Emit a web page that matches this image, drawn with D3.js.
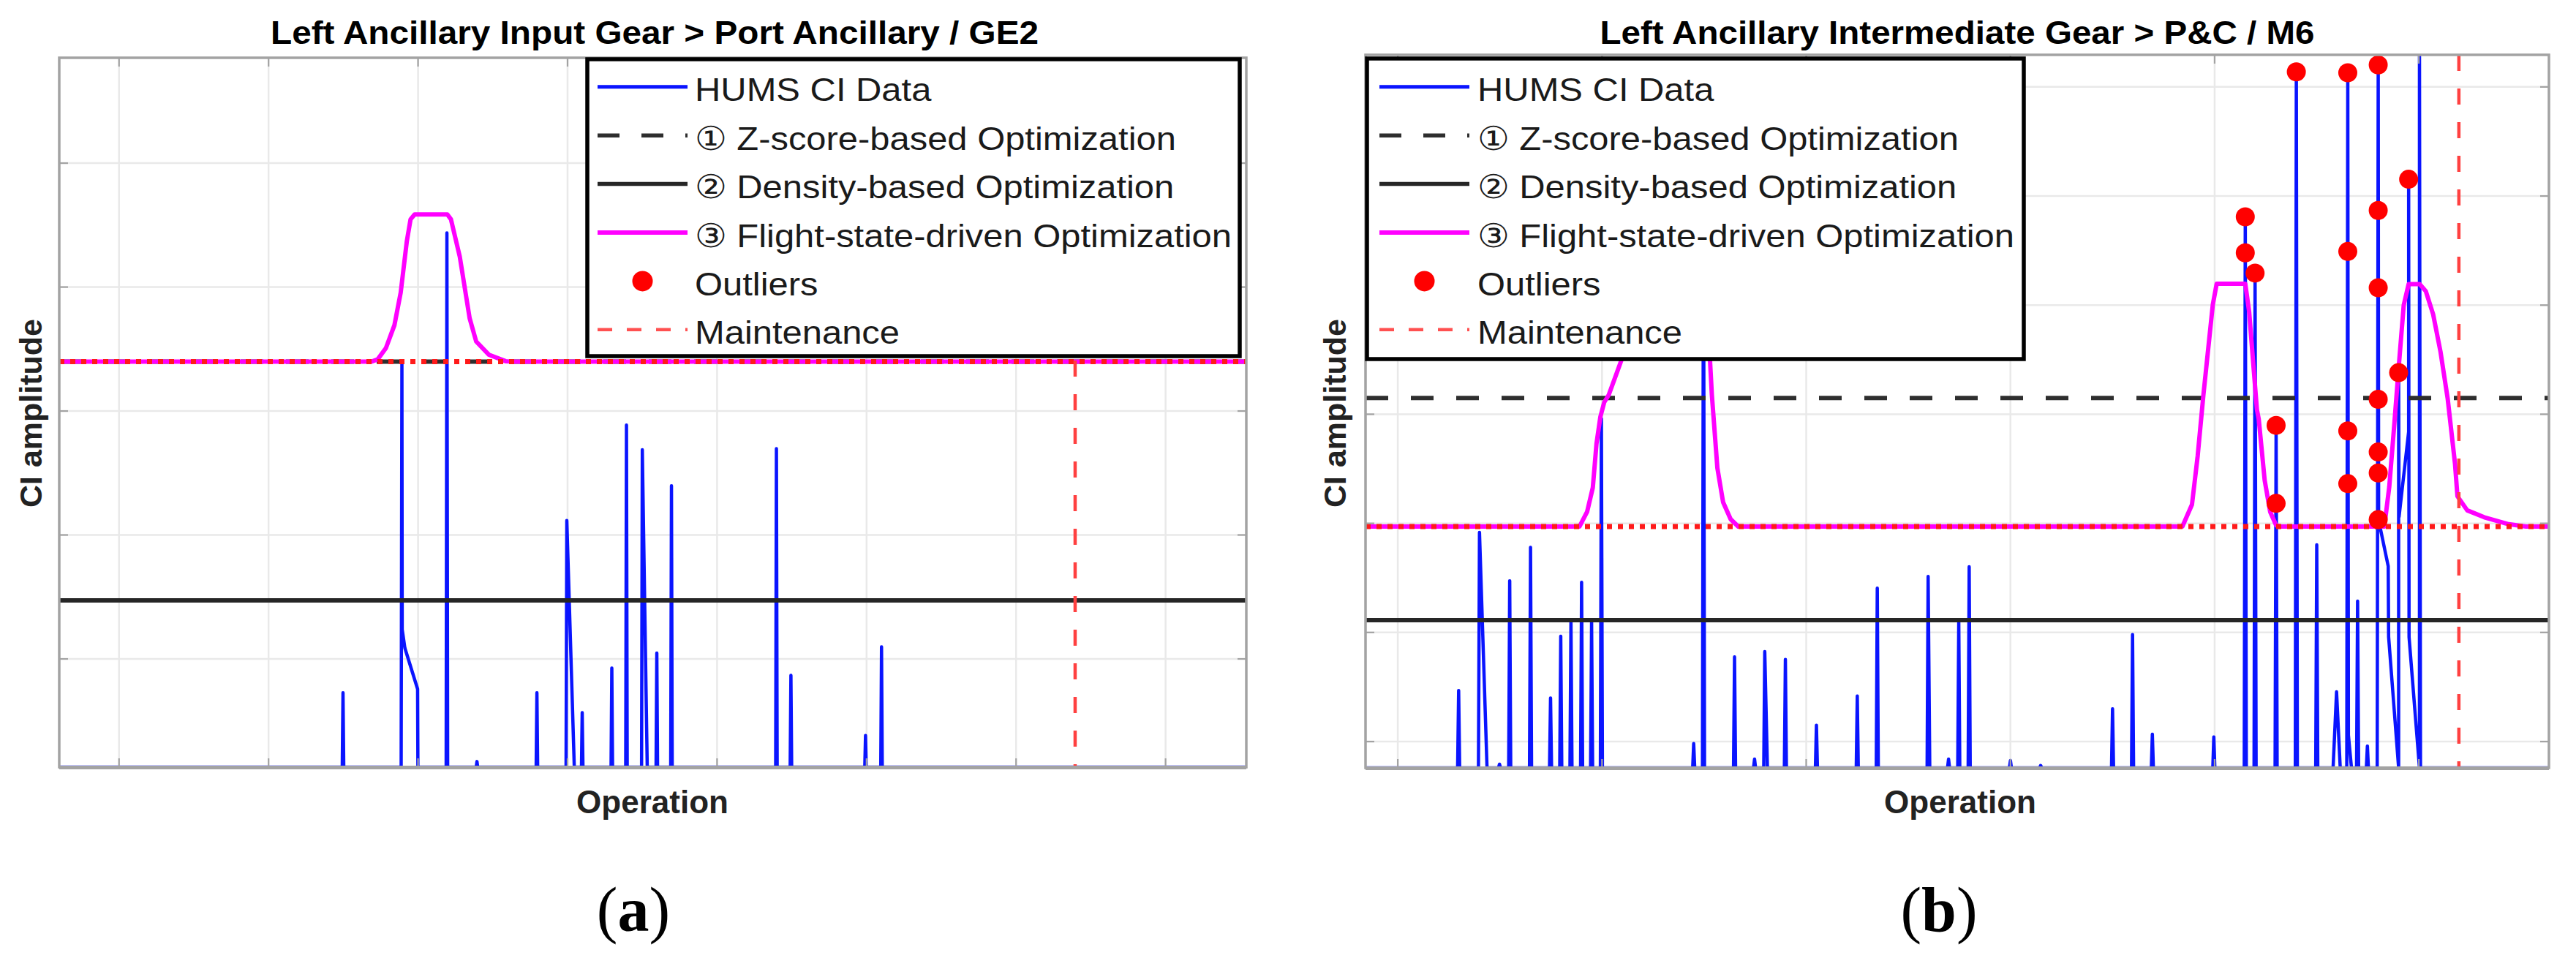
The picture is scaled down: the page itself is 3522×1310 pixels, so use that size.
<!DOCTYPE html>
<html><head><meta charset="utf-8">
<script src="https://cdn.jsdelivr.net/npm/d3@7"></script>
<style>html,body{margin:0;padding:0;background:#fff;} svg{display:block;}</style>
</head><body>
<script>
// ================= DATA =================
const titleA = "Left Ancillary Input Gear > Port Ancillary / GE2";
const titleB = "Left Ancillary Intermediate Gear > P&C / M6";
const xLabel = "Operation";
const yLabel = "CI amplitude";
const captionA = "a";
const captionB = "b";
const legendLabels = ["HUMS CI Data", "\u2460 Z-score-based Optimization", "\u2461 Density-based Optimization",
  "\u2462 Flight-state-driven Optimization", "Outliers", "Maintenance"];

// axis domains and tick values (tick labels are hidden in the original)
const xDomainA = [60, 854];
const yDomainA = [0, 5.723];
const xTicksA = [100, 200, 300, 400, 500, 600, 700, 800];
const yTicksA = [0.873, 1.873, 2.873, 3.873, 4.873];

const xDomainB = [84.2, 663.7];
const yDomainB = [0, 6.535];
const xTicksB = [100, 200, 300, 400, 500, 600];
const yTicksB = [0.241, 1.241, 2.241, 3.241, 4.241, 5.241, 6.241];

// HUMS CI data [operation, amplitude]
const humsA = [[60,0],
  [249.3,0],[249.8,0.60],[250.3,0],
  [288.7,0],[289.2,3.26],[289.4,1.11],[291.2,0.96],[299.7,0.63],[299.9,0],
  [318.8,0],[319.3,4.31],[319.8,0],
  [338.9,0],[339.4,0.045],[339.9,0],
  [379,0],[379.5,0.60],[380,0],
  [399,0],[399.5,1.99],[404.5,0],
  [409.3,0],[409.8,0.44],[410.3,0],
  [429.1,0],[429.6,0.80],[430.1,0],
  [438.9,0],[439.4,2.76],[439.9,0],
  [449.5,0],[450,2.56],[453.3,0],
  [459.2,0],[459.7,0.92],[460.2,0],
  [469,0],[469.5,2.27],[470,0],
  [539.2,0],[539.7,2.57],[540.2,0],
  [548.9,0],[549.4,0.74],[549.9,0],
  [598.8,0],[599.3,0.255],[599.8,0],
  [609.5,0],[610,0.97],[610.5,0],
  [854,0]];

const humsB = [[84.2,0],
  [129.3,0],[129.8,0.708],[130.3,0],
  [139.5,0],[140,2.158],[143.7,0],
  [149.3,0],[149.8,0.034],[150.3,0],
  [154.3,0],[154.8,1.715],[155.3,0],
  [164.5,0],[165,2.02],[165.5,0],
  [174.3,0],[174.8,0.64],[175.3,0],
  [179.3,0],[179.8,1.206],[180.3,0],
  [184.3,0],[184.8,1.352],[185.3,0],
  [189.5,0],[190,1.70],[190.5,0],
  [194.4,0],[194.9,1.34],[195.4,0],
  [199.2,0],[199.7,3.20],[200.2,0],
  [244.4,0],[244.9,0.223],[245.4,0],
  [249.2,0],[249.7,5.4],[250.2,0],
  [264.4,0],[264.9,1.017],[265.4,0],
  [274.2,0],[274.7,0.08],[275.2,0],
  [279.2,0],[279.7,1.066],[281,0],
  [289.3,0],[289.8,0.994],[290.3,0],
  [304.5,0],[305,0.391],[305.5,0],
  [324.5,0],[325,0.659],[325.5,0],
  [334.3,0],[334.8,1.647],[335.3,0],
  [359.2,0],[359.7,1.754],[360.5,0],
  [369.2,0],[369.7,0.08],[370.2,0],
  [374.2,0],[374.7,1.34],[375.2,0],
  [379.3,0],[379.8,1.843],[380.3,0],
  [399.5,0],[400,0.067],[400.5,0],
  [414.3,0],[414.8,0.022],[415.3,0],
  [449.5,0],[450,0.541],[450.5,0],
  [459.3,0],[459.8,1.222],[460.3,0],
  [469,0],[469.5,0.308],[470,0],
  [499.1,0],[499.6,0.284],[500.1,0],
  [514.5,0],[515,5.05],[515.5,0],
  [519.3,0],[519.8,4.535],[520.3,0],
  [529.6,0],[530.1,3.139],[530.6,0],
  [539.5,0],[540,6.379],[540.5,0],
  [549.5,0],[550,2.044],[550.5,0],
  [558,0],[559.7,0.697],[561.5,0],
  [564.7,0],[565.2,6.371],[565.5,0.3],[567,0],
  [569.5,0],[570,1.528],[570.5,0],
  [574.3,0],[574.8,0.2],[575.3,0],
  [579.6,0],[580.1,6.443],[580.3,2.27],[585,1.848],[585.2,1.2],[590.1,0],[590.1,3.622],[590.3,2.3],
  [595,3.08],[595,5.395],[595.2,1.2],[600.3,0],[600.3,6.6],[600.8,0],
  [663.7,0]];

// (3) flight-state-driven threshold [operation, amplitude]
const flightA = [[60,3.271],[268.7,3.271],[273,3.29],[278.5,3.381],[284.2,3.566],[288.4,3.829],[292.5,4.244],
  [295,4.42],[297.7,4.459],[319.6,4.459],[322,4.42],[327.9,4.119],[334.5,3.622],[338.9,3.434],
  [347.3,3.328],[358.6,3.275],[365,3.271],[854,3.271]];
const flightB = [[84.2,2.212],[189,2.212],[192.7,2.346],[195.5,2.569],[197.3,2.971],[199.2,3.217],[201.1,3.351],
  [203.3,3.418],[209.4,3.731],[213,4.2],[216,4.437],[246,4.437],[250,4.2],[252.9,3.731],[253.8,3.418],
  [256.5,2.748],[259.3,2.435],[263,2.279],[266.7,2.212],
  [484.2,2.212],[488.9,2.413],[491.7,2.86],[494.5,3.418],[499.1,4.245],[501,4.437],[515,4.437],
  [516.9,4.18],[518.8,3.731],[520.7,3.284],[521.6,3.195],[524.5,2.636],[527.2,2.346],[530.1,2.223],[532,2.212],
  [583.1,2.212],[585.5,2.574],[587.9,3.13],[590.2,3.686],[592.6,4.242],[595,4.434],[600.4,4.434],
  [603.4,4.369],[607,4.156],[610.6,3.814],[614.1,3.387],[617.7,2.788],[618.9,2.489],[623.7,2.36],
  [632,2.297],[644,2.233],[652.4,2.212],[663.7,2.212]];

// (1) Z-score, (2) density thresholds, red dotted reference level, maintenance event
const zScoreA = 3.271, densityA = 1.345, refLevelA = 3.271, maintenanceA = 739.5;
const zScoreB = 3.39, densityB = 1.354, refLevelB = 2.212, maintenanceB = 619.6;

// Outliers [operation, amplitude]
const outliersA = [];
const outliersB = [[515,5.05],[515,4.72],[519.8,4.535],[530.1,3.139],[530.1,2.424],[540,6.379],
  [565.2,6.371],[565.2,4.733],[565.2,3.088],[565.2,2.605],
  [580.1,6.443],[580.1,5.109],[580.1,4.40],[580.1,3.378],[580.1,2.895],[580.1,2.703],[580.1,2.275],
  [590.1,3.622],[595,5.395]];

// ================= STYLE / LAYOUT =================
const W = 3522, H = 1310;
const FONT = "'Liberation Sans', Arial, Helvetica, sans-serif";
const C = {blue:"#0a14ff", magenta:"#ff00ff", red:"#ff1a1a", maint:"#ff4040", black:"#262626", grid:"#e9e9e9", axis:"#a3a3a3"};

const svg = d3.select("body").append("svg").attr("width", W).attr("height", H)
  .attr("viewBox", `0 0 ${W} ${H}`);
svg.append("rect").attr("width", W).attr("height", H).attr("fill", "#fff");

function panel(cfg, idx) {
  const {l, t, r, b} = cfg.box;
  const x = d3.scaleLinear().domain(cfg.xDomain).range([l, r]);
  const y = d3.scaleLinear().domain(cfg.yDomain).range([b, t]);
  const g = svg.append("g");
  const clipId = "clip" + idx;
  svg.append("defs").append("clipPath").attr("id", clipId)
    .append("rect").attr("x", l).attr("y", t).attr("width", r - l).attr("height", b - t);

  // grid
  g.append("g").selectAll("line").data(cfg.xTicks).join("line")
    .attr("x1", d => x(d)).attr("x2", d => x(d)).attr("y1", t).attr("y2", b)
    .attr("stroke", C.grid).attr("stroke-width", 2.5);
  g.append("g").selectAll("line").data(cfg.yTicks).join("line")
    .attr("y1", d => y(d)).attr("y2", d => y(d)).attr("x1", l).attr("x2", r)
    .attr("stroke", C.grid).attr("stroke-width", 2.5);

  const plot = g.append("g").attr("clip-path", `url(#${clipId})`);
  const line = d3.line().x(d => x(d[0])).y(d => y(d[1]));
  const hline = (v, stroke, w, dash) => plot.append("line")
    .attr("x1", x(cfg.xDomain[0])).attr("x2", x(cfg.xDomain[1]))
    .attr("y1", y(v)).attr("y2", y(v))
    .attr("stroke", stroke).attr("stroke-width", w).attr("stroke-dasharray", dash || null);

  // HUMS CI data
  plot.append("path").datum(cfg.hums).attr("d", line)
    .attr("fill", "none").attr("stroke", C.blue).attr("stroke-width", 4.5).attr("stroke-linejoin", "round");
  // thresholds
  hline(cfg.z, "#2e2e2e", 6, "31,31");
  hline(cfg.density, C.black, 6);
  plot.append("path").datum(cfg.flight).attr("d", line)
    .attr("fill", "none").attr("stroke", C.magenta).attr("stroke-width", 6).attr("stroke-linejoin", "round");
  hline(cfg.ref, C.red, 7, "7,8");
  // maintenance
  plot.append("line").attr("x1", x(cfg.maint)).attr("x2", x(cfg.maint)).attr("y1", t).attr("y2", b)
    .attr("stroke", C.maint).attr("stroke-width", 4.5).attr("stroke-dasharray", "22,24");
  // outliers
  plot.append("g").selectAll("circle").data(cfg.outliers).join("circle")
    .attr("cx", d => x(d[0])).attr("cy", d => y(d[1])).attr("r", 13).attr("fill", "#ff0000");

  // frame + ticks
  const tk = 12;
  const ax = g.append("g").attr("stroke", C.axis).attr("stroke-width", 2.2);
  cfg.xTicks.forEach(v => {
    ax.append("line").attr("x1", x(v)).attr("x2", x(v)).attr("y1", b).attr("y2", b - tk);
    ax.append("line").attr("x1", x(v)).attr("x2", x(v)).attr("y1", t).attr("y2", t + tk);
  });
  cfg.yTicks.forEach(v => {
    ax.append("line").attr("y1", y(v)).attr("y2", y(v)).attr("x1", l).attr("x2", l + tk);
    ax.append("line").attr("y1", y(v)).attr("y2", y(v)).attr("x1", r).attr("x2", r - tk);
  });
  g.append("rect").attr("x", l).attr("y", t).attr("width", r - l).attr("height", b - t)
    .attr("fill", "none").attr("stroke", C.axis).attr("stroke-width", 3.5);
  // bottom axis line drawn heavier so it covers the data baseline
  g.append("line").attr("x1", l).attr("x2", r).attr("y1", b + 0.5).attr("y2", b + 0.5)
    .attr("stroke", C.axis).attr("stroke-width", 5);

  // legend
  const L = cfg.legend;
  const lg = g.append("g");
  lg.append("rect").attr("x", L.x).attr("y", L.y).attr("width", L.w).attr("height", L.h)
    .attr("fill", "#fff").attr("stroke", "#000").attr("stroke-width", 5.5);
  const styles = [
    {type:"line", stroke:C.blue, w:5},
    {type:"line", stroke:"#2e2e2e", w:5.5, dash:"30,30"},
    {type:"line", stroke:C.black, w:5.5},
    {type:"line", stroke:C.magenta, w:6},
    {type:"dot"},
    {type:"line", stroke:"#ff5050", w:4.5, dash:"20,20"}
  ];
  legendLabels.forEach((lab, i) => {
    const by = L.base0 + i * L.step;
    const cy = by - 19.5;
    const s = styles[i];
    if (s.type === "line") {
      lg.append("line").attr("x1", L.sx1).attr("x2", L.sx2).attr("y1", cy).attr("y2", cy)
        .attr("stroke", s.stroke).attr("stroke-width", s.w).attr("stroke-dasharray", s.dash || null);
    } else {
      lg.append("circle").attr("cx", (L.sx1 + L.sx2) / 2).attr("cy", cy).attr("r", 14).attr("fill", "#ff0000");
    }
    lg.append("text").attr("transform", `translate(${L.tx},${by}) scale(1.087,1)`)
      .attr("font-family", FONT).attr("font-size", 45).attr("fill", "#1a1a1a").text(lab);
  });

  // title
  g.append("text").attr("x", cfg.titleX).attr("y", 60).attr("text-anchor", "middle")
    .attr("font-family", FONT).attr("font-weight", "bold").attr("font-size", 44)
    .attr("textLength", cfg.titleLen).attr("lengthAdjust", "spacingAndGlyphs")
    .attr("fill", "#000").text(cfg.title);
  // axis labels
  g.append("text").attr("x", cfg.xLabelX).attr("y", 1112).attr("text-anchor", "middle")
    .attr("font-family", FONT).attr("font-weight", "bold").attr("font-size", 44).attr("fill", "#222")
    .text(xLabel);
  g.append("text").attr("transform", `translate(${cfg.yLabelX},565) rotate(-90)`)
    .attr("text-anchor", "middle").attr("dominant-baseline", "central")
    .attr("font-family", FONT).attr("font-weight", "bold").attr("font-size", 43).attr("fill", "#222")
    .text(yLabel);
  // caption
  const cap = g.append("text").attr("x", cfg.capX).attr("y", 1273).attr("text-anchor", "middle")
    .attr("font-family", "'Liberation Serif', 'Times New Roman', serif").attr("font-size", 86).attr("fill", "#000");
  cap.append("tspan").text("(");
  cap.append("tspan").attr("font-weight", "bold").text(cfg.caption);
  cap.append("tspan").text(")");
}

panel({
  box: {l: 81, t: 79, r: 1704, b: 1049},
  xDomain: xDomainA, yDomain: yDomainA, xTicks: xTicksA, yTicks: yTicksA,
  hums: humsA, flight: flightA, z: zScoreA, density: densityA, ref: refLevelA, maint: maintenanceA,
  outliers: outliersA,
  legend: {x: 803, y: 81, w: 892, h: 406, base0: 138.3, step: 66.4, sx1: 817, sx2: 940, tx: 950},
  title: titleA, titleX: 895, titleLen: 1050, xLabelX: 892, yLabelX: 42, caption: captionA, capX: 866
}, 0);

panel({
  box: {l: 1867, t: 75, r: 3485, b: 1050},
  xDomain: xDomainB, yDomain: yDomainB, xTicks: xTicksB, yTicks: yTicksB,
  hums: humsB, flight: flightB, z: zScoreB, density: densityB, ref: refLevelB, maint: maintenanceB,
  outliers: outliersB,
  legend: {x: 1869, y: 80, w: 898, h: 411, base0: 138.3, step: 66.4, sx1: 1886, sx2: 2009, tx: 2020},
  title: titleB, titleX: 2676, titleLen: 977, xLabelX: 2680, yLabelX: 1825, caption: captionB, capX: 2651
}, 1);
</script>
</body></html>
